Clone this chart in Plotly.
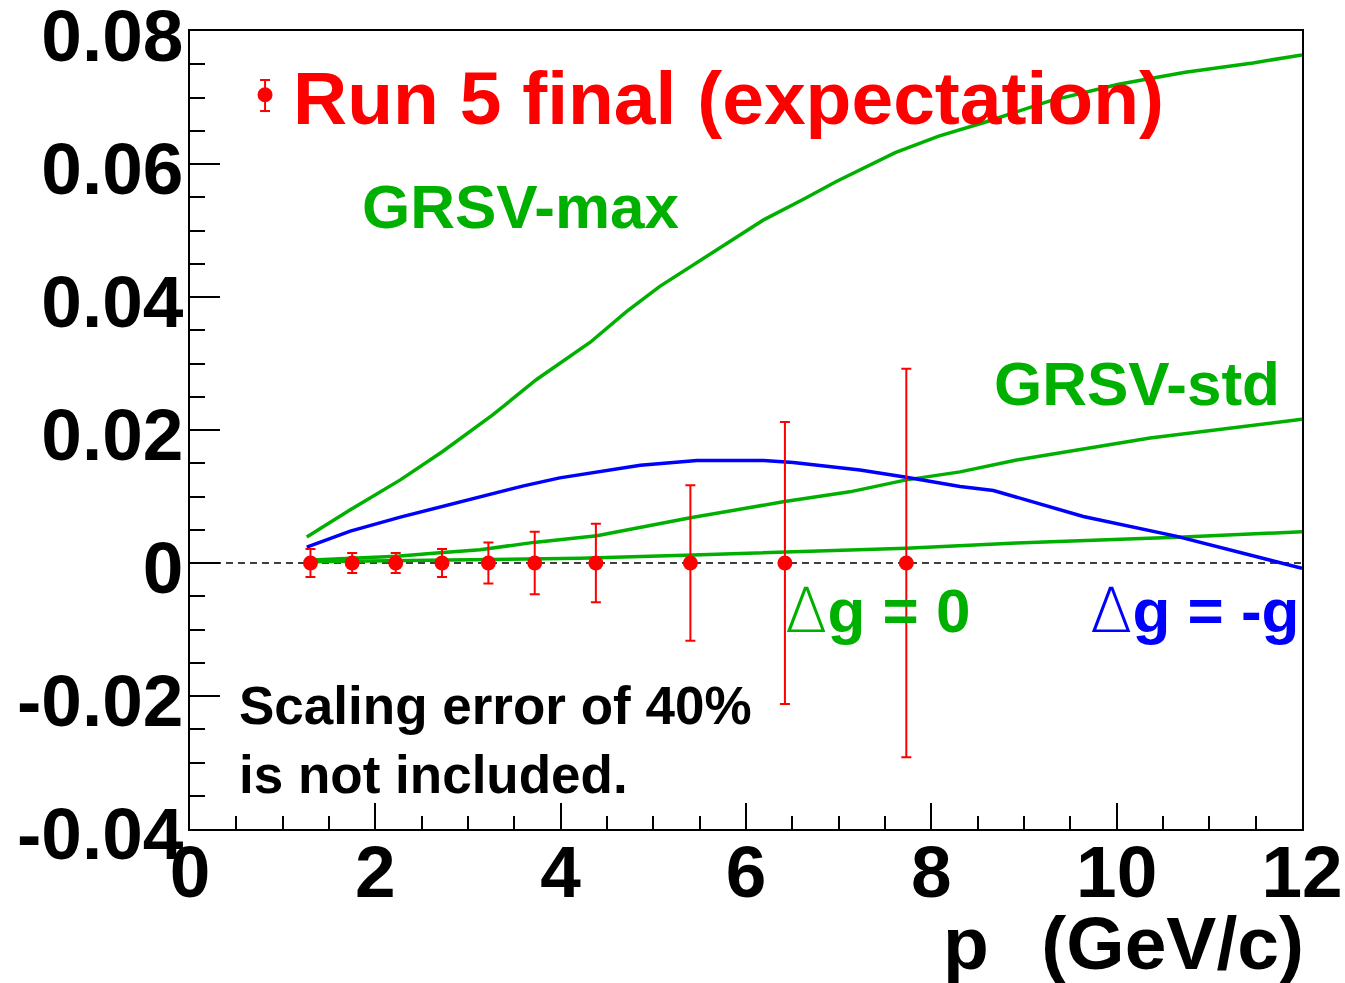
import plotly.graph_objects as go

# Expected double-spin asymmetry points (Run 5 final projection)
PT = [1.30, 1.75, 2.22, 2.72, 3.22, 3.72, 4.38, 5.40, 6.42, 7.73]
ASYM = [0.0, 0.0, 0.0, 0.0, 0.0, 0.0, 0.0, 0.0, 0.0, 0.0]
ASYM_ERR = [0.0021, 0.0015, 0.0015, 0.0021, 0.0031, 0.0047, 0.0059, 0.0117, 0.0212, 0.0292]

# Theory curves
GRSV_MAX_X = [1.26, 1.73, 2.27, 2.73, 3.27, 3.74, 4.32, 4.71, 5.07, 5.58, 6.19, 6.62,
              6.98, 7.61, 8.08, 8.56, 9.28, 10.02, 10.74, 11.47, 12.0]
GRSV_MAX_Y = [0.0039, 0.0080, 0.0125, 0.0168, 0.0223, 0.0276, 0.0332, 0.0378, 0.0416,
              0.0461, 0.0516, 0.0547, 0.0574, 0.0617, 0.0642, 0.0662, 0.0695, 0.0720,
              0.0738, 0.0752, 0.0764]

GRSV_STD_X = [1.26, 2.23, 2.66, 3.13, 3.71, 4.39, 5.40, 6.40, 7.12, 7.73, 8.31, 8.92, 10.36, 12.0]
GRSV_STD_Y = [0.0004, 0.0010, 0.0015, 0.0020, 0.0031, 0.0041, 0.0068, 0.0092, 0.0107,
              0.0125, 0.0137, 0.0155, 0.0188, 0.0216]

DG_ZERO_X = [1.26, 4.21, 5.43, 6.51, 7.73, 8.92, 10.72, 12.0]
DG_ZERO_Y = [0.0002, 0.0007, 0.0012, 0.0017, 0.0022, 0.0030, 0.0039, 0.0047]

DG_NEG_X = [1.26, 1.73, 2.27, 3.06, 3.60, 3.99, 4.32, 4.86, 5.47, 6.19, 6.51, 7.23,
            7.73, 8.31, 8.67, 9.64, 10.65, 12.0]
DG_NEG_Y = [0.0024, 0.0048, 0.0069, 0.0097, 0.0116, 0.0128, 0.0135, 0.0147, 0.0154,
            0.0154, 0.0151, 0.0140, 0.0129, 0.0115, 0.0109, 0.0070, 0.0040, -0.0008]

X_TICKS = [0, 2, 4, 6, 8, 10, 12]
Y_TICKS = [-0.04, -0.02, 0.0, 0.02, 0.04, 0.06, 0.08]
Y_TICK_LABELS = ["-0.04", "-0.02", "0", "0.02", "0.04", "0.06", "0.08"]

GREEN = "#00B000"
RED = "#FF0000"
BLUE = "#0000FF"
FONT = "Liberation Sans, Arial, Helvetica, sans-serif"

fig = go.Figure()

for xs, ys, col in [(GRSV_MAX_X, GRSV_MAX_Y, GREEN),
                    (GRSV_STD_X, GRSV_STD_Y, GREEN),
                    (DG_ZERO_X, DG_ZERO_Y, GREEN),
                    (DG_NEG_X, DG_NEG_Y, BLUE)]:
    fig.add_trace(go.Scatter(x=xs, y=ys, mode="lines",
                             line=dict(color=col, width=3.5),
                             showlegend=False, hoverinfo="skip"))

fig.add_trace(go.Scatter(
    x=PT, y=ASYM, mode="markers",
    name="Run 5 final (expectation)",
    marker=dict(color=RED, size=15, symbol="circle"),
    error_y=dict(type="data", array=ASYM_ERR, visible=True,
                 color=RED, thickness=2, width=5),
    showlegend=True,
))

# dashed zero reference line
fig.add_shape(type="line", xref="x", yref="y", x0=0, x1=12, y0=0, y1=0,
              line=dict(color="black", width=1.5, dash="7px,5px"), layer="below")

# whisker on the legend key
LEG_X = 0.0675
fig.add_shape(type="line", xref="paper", yref="paper", x0=LEG_X, x1=LEG_X,
              y0=0.8997, y1=0.9386, line=dict(color=RED, width=2))
for yy in (0.8997, 0.9386):
    fig.add_shape(type="line", xref="paper", yref="paper", x0=LEG_X - 0.0045,
                  x1=LEG_X + 0.0045, y0=yy, y1=yy, line=dict(color=RED, width=2))

def label(text, x, y, color, size, xanchor="left", xref="x", yref="y", align="left",
          xshift=0, weight="bold"):
    fig.add_annotation(text=text, x=x, y=y, xref=xref, yref=yref, xshift=xshift,
                       xanchor=xanchor, yanchor="middle", showarrow=False, align=align,
                       font=dict(family=FONT, size=size, color=color, weight=weight))

# thin-stroked Delta (symbol-style glyph) followed by bold text
DELTA = "<span style='font-family:DejaVu Sans;font-weight:200'>∆</span>"
label("GRSV-max", 1.835, 0.0536, GREEN, 62)
label("GRSV-std", 8.655, 0.0270, GREEN, 62)
label(DELTA + "<b>g = 0</b>", 6.40, -0.0071, GREEN, 62, weight="normal")
label(DELTA + "<b>g = -g</b>", 9.69, -0.0071, BLUE, 62, weight="normal")
label("Scaling error of 40%<br>is not included.", 0.507, -0.0266, "black", 53)
label("p\u2002\u2009(GeV/c)", 1.0, -0.143, "black", 75, xanchor="right",
      xref="paper", yref="paper", xshift=4)

tickfont = dict(family=FONT, size=73, color="black", weight="bold")

fig.update_xaxes(
    range=[0, 12], tickmode="array", tickvals=X_TICKS, automargin=False,
    ticks="inside", ticklen=26, tickwidth=1.5, tickcolor="black",
    showline=True, linewidth=2, linecolor="black", mirror=True,
    showgrid=False, zeroline=False, tickfont=tickfont,
    ticklabelstandoff=-22, ticklabeloverflow="allow",
    minor=dict(ticks="inside", ticklen=13, tickwidth=1.5, tickcolor="black",
               tickmode="linear", tick0=0, dtick=0.5, showgrid=False),
)
fig.update_yaxes(
    range=[-0.04, 0.08], tickmode="array", tickvals=Y_TICKS, ticktext=Y_TICK_LABELS,
    automargin=False,
    ticks="inside", ticklen=30, tickwidth=1.5, tickcolor="black",
    showline=True, linewidth=2, linecolor="black", mirror=True,
    showgrid=False, zeroline=False, tickfont=tickfont,
    ticklabelshift=4, ticklabelstandoff=-10, ticklabeloverflow="allow",
    minor=dict(ticks="inside", ticklen=15, tickwidth=1.5, tickcolor="black",
               tickmode="linear", tick0=0, dtick=0.005, showgrid=False),
)

fig.update_layout(
    width=1345, height=983,
    margin=dict(l=190, r=43, t=31, b=154, pad=0),
    paper_bgcolor="white", plot_bgcolor="white",
    showlegend=True,
    legend=dict(x=0.0423, y=0.9198, xanchor="left", yanchor="middle",
                bgcolor="rgba(0,0,0,0)", borderwidth=0, itemwidth=46,
                font=dict(family=FONT, size=75, color=RED, weight="bold")),
)

fig.write_html("out.html")
